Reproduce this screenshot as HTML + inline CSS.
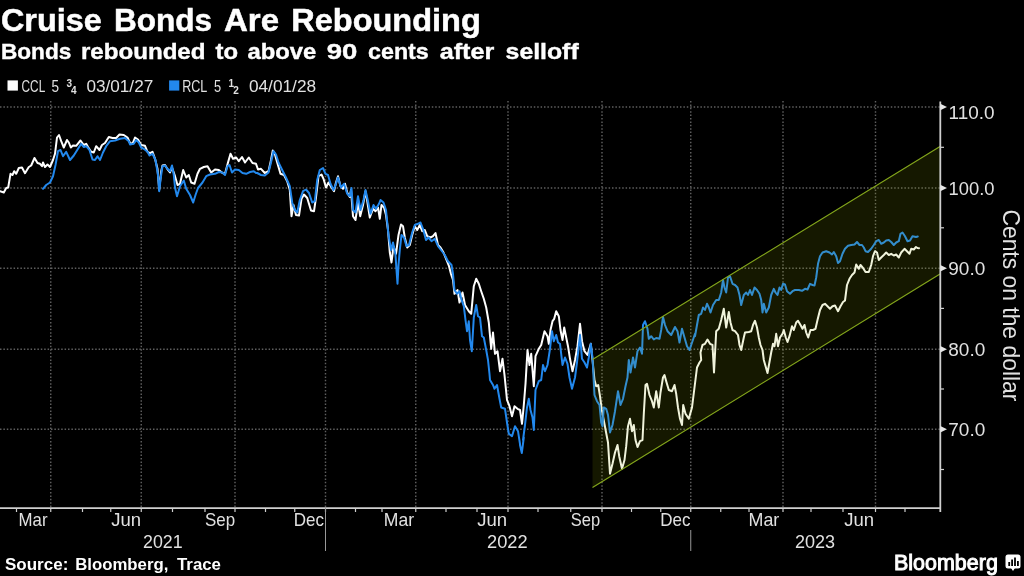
<!DOCTYPE html>
<html><head><meta charset="utf-8"><title>Cruise Bonds Are Rebounding</title>
<style>html,body{margin:0;padding:0;background:#000;width:1024px;height:576px;overflow:hidden;font-family:"Liberation Sans",sans-serif}</style>
</head><body>
<svg width="1024" height="576" viewBox="0 0 1024 576" style="position:absolute;left:0;top:0;will-change:transform;opacity:0.999">
<rect width="1024" height="576" fill="#000"/>
<g stroke="#606060" stroke-width="1.45" stroke-dasharray="1.5 1.9" fill="none">
<line x1="50.75" y1="101" x2="50.75" y2="507"/>
<line x1="141.25" y1="101" x2="141.25" y2="507"/>
<line x1="235" y1="101" x2="235" y2="507"/>
<line x1="325.5" y1="101" x2="325.5" y2="507"/>
<line x1="415.75" y1="101" x2="415.75" y2="507"/>
<line x1="508" y1="101" x2="508" y2="507"/>
<line x1="602" y1="101" x2="602" y2="507"/>
<line x1="690.75" y1="101" x2="690.75" y2="507"/>
<line x1="783" y1="101" x2="783" y2="507"/>
<line x1="875.5" y1="101" x2="875.5" y2="507"/>
<line x1="0" y1="107" x2="940" y2="107"/>
<line x1="0" y1="188" x2="940" y2="188"/>
<line x1="0" y1="268.25" x2="940" y2="268.25"/>
<line x1="0" y1="349.25" x2="940" y2="349.25"/>
<line x1="0" y1="429.25" x2="940" y2="429.25"/>
</g>
<path d="M0.0,191.2 L3.8,192.5 L6.2,188.0 L8.2,187.5 L10.5,173.8 L12.5,175.0 L14.2,171.2 L16.2,173.8 L18.8,168.0 L22.0,167.5 L25.0,173.2 L28.8,167.0 L31.2,165.5 L34.5,158.0 L37.5,163.0 L40.0,163.8 L42.0,166.2 L43.0,162.5 L45.0,167.0 L47.5,164.5 L50.0,167.0 L53.0,160.0 L55.0,153.8 L57.0,137.5 L59.0,135.0 L61.2,141.2 L63.8,147.5 L67.0,140.0 L68.8,142.5 L70.8,147.5 L73.0,145.5 L76.2,145.8 L80.5,140.5 L83.8,145.0 L86.2,143.8 L88.0,147.0 L91.2,151.8 L93.8,152.5 L96.2,146.2 L99.5,150.0 L102.0,145.0 L105.0,143.0 L108.8,137.0 L112.5,138.0 L116.2,138.0 L119.5,134.5 L123.8,135.0 L127.5,137.5 L130.0,143.0 L132.5,143.8 L135.0,137.5 L138.0,139.5 L141.2,145.0 L145.0,145.8 L147.5,151.8 L150.0,153.2 L152.5,151.8 L155.0,158.8 L157.5,168.8 L159.2,190.0 L161.2,171.2 L162.5,165.5 L165.0,165.0 L168.0,170.0 L170.0,172.5 L172.0,167.5 L175.0,176.2 L177.5,185.0 L180.0,183.8 L183.2,170.0 L186.2,177.5 L188.8,175.0 L191.2,182.5 L194.5,183.8 L197.5,173.8 L200.0,168.8 L203.8,167.0 L207.5,166.2 L211.2,172.5 L215.0,169.5 L218.8,170.0 L222.5,173.0 L225.0,173.8 L228.0,162.5 L230.5,153.8 L233.0,158.8 L236.2,157.5 L238.8,161.2 L242.0,157.0 L245.0,162.5 L248.8,157.5 L252.5,163.0 L256.0,163.8 L258.0,169.5 L261.0,168.8 L264.8,173.0 L268.5,171.2 L271.0,160.0 L272.8,150.5 L274.8,153.8 L277.2,162.5 L280.5,173.8 L284.0,175.0 L287.2,181.2 L289.8,190.0 L291.5,216.2 L293.5,205.0 L296.0,215.0 L299.0,215.5 L301.5,198.8 L304.0,194.5 L307.2,198.0 L311.0,210.5 L314.0,211.2 L316.0,197.5 L318.5,176.2 L321.5,174.5 L323.5,178.8 L326.0,187.5 L328.5,182.5 L331.5,187.5 L334.0,191.2 L336.0,182.5 L338.0,176.2 L340.5,186.2 L343.0,188.8 L345.0,183.8 L347.2,192.5 L349.8,197.0 L351.0,190.0 L353.0,216.2 L355.5,220.0 L358.0,202.5 L360.2,216.2 L363.0,205.0 L365.5,191.2 L367.2,201.2 L369.8,217.5 L373.0,208.8 L375.5,211.2 L378.0,207.5 L379.8,218.8 L381.5,205.0 L384.0,207.5 L386.0,215.0 L388.0,230.0 L389.8,252.5 L391.5,262.5 L393.5,246.2 L396.0,253.8 L398.5,235.0 L401.0,224.5 L403.0,226.2 L404.8,237.5 L407.2,247.5 L409.8,245.0 L412.2,235.0 L414.8,226.2 L417.2,230.0 L419.8,225.0 L422.2,231.2 L424.8,230.0 L427.2,236.2 L430.5,237.5 L433.0,236.2 L435.5,233.0 L438.0,245.0 L440.5,247.5 L443.5,252.5 L446.5,260.0 L449.0,266.2 L451.0,274.0 L453.0,280.0 L454.5,293.8 L457.5,290.0 L459.5,302.5 L462.5,292.5 L465.0,305.0 L468.8,311.2 L471.2,313.8 L473.8,286.2 L476.2,278.8 L478.8,283.8 L481.2,291.2 L483.8,298.8 L486.2,307.5 L488.8,322.5 L491.2,348.8 L493.0,332.5 L495.0,353.8 L497.5,351.2 L500.0,371.2 L502.5,358.8 L504.5,375.0 L507.0,400.0 L509.5,406.2 L512.0,416.2 L514.5,406.2 L517.5,408.8 L520.0,410.0 L522.0,423.8 L523.8,405.0 L525.5,383.8 L527.5,350.0 L529.5,365.0 L531.2,353.8 L533.8,386.2 L535.5,356.2 L538.8,348.8 L541.2,345.0 L544.5,331.2 L547.5,336.2 L548.8,343.8 L550.5,330.0 L552.5,321.2 L554.2,318.8 L556.2,311.2 L558.8,316.2 L560.5,330.0 L562.5,340.0 L564.2,327.5 L566.2,337.5 L568.0,346.2 L570.0,358.8 L572.5,371.2 L575.0,360.0 L577.5,346.2 L580.0,323.8 L582.0,341.2 L584.5,351.2 L587.5,355.0 L590.8,343.8 L592.5,360.0 L594.5,380.0 L596.2,386.2 L598.2,385.0 L600.0,396.2 L601.8,410.0 L608.0,442.5 L610.0,473.8 L612.5,463.8 L615.0,452.5 L617.5,445.0 L619.2,456.2 L622.0,468.8 L624.5,460.0 L626.2,446.2 L628.0,426.2 L630.0,418.8 L632.0,431.2 L633.8,425.0 L635.5,440.0 L637.5,447.0 L640.0,441.2 L642.5,440.0 L643.8,413.8 L645.5,385.0 L647.0,383.8 L649.5,395.0 L652.0,401.2 L653.8,407.5 L656.2,391.2 L658.8,407.5 L660.5,392.5 L663.0,377.5 L664.5,375.0 L666.2,381.2 L668.8,390.0 L672.0,391.2 L674.5,385.0 L676.2,393.8 L678.0,407.5 L680.0,418.8 L682.0,425.0 L683.2,405.0 L685.5,413.8 L688.8,418.8 L692.0,407.5 L694.5,387.5 L697.0,367.5 L699.5,362.5 L701.2,360.0 L700.5,352.5 L702.5,345.0 L705.0,343.8 L707.5,339.5 L710.0,343.8 L712.5,345.0 L714.0,372.5 L716.2,331.2 L718.8,328.8 L721.2,320.0 L723.8,308.8 L726.2,327.5 L728.8,312.0 L730.5,322.5 L732.5,330.0 L735.0,331.2 L738.0,335.0 L739.5,345.0 L741.2,350.0 L743.8,337.5 L745.0,332.5 L748.8,332.0 L751.2,331.2 L753.0,325.0 L755.0,320.8 L757.0,327.5 L758.8,337.5 L760.5,345.0 L762.5,350.0 L763.8,360.0 L767.5,373.0 L771.2,352.5 L773.0,343.8 L774.5,346.2 L776.2,333.8 L778.0,346.2 L780.0,337.5 L782.5,333.8 L783.8,330.0 L785.8,337.5 L787.5,342.0 L789.5,336.2 L792.0,326.2 L793.8,330.0 L796.2,322.5 L798.0,320.8 L800.5,325.0 L802.5,328.8 L804.5,325.0 L806.2,332.5 L808.2,337.5 L810.5,330.0 L813.0,330.0 L815.5,328.8 L817.5,320.0 L820.0,310.0 L822.5,305.0 L825.0,303.8 L827.5,306.2 L830.0,308.8 L832.5,306.2 L835.0,305.5 L838.0,311.2 L840.5,306.2 L843.0,302.0 L845.0,300.5 L847.0,285.0 L849.5,278.8 L852.0,275.0 L854.5,272.5 L856.2,264.5 L858.8,268.8 L860.5,265.0 L863.0,268.0 L865.5,272.0 L868.8,272.0 L871.2,265.0 L873.0,256.2 L875.0,251.2 L877.0,252.5 L878.8,260.0 L881.2,257.5 L883.8,255.0 L886.2,252.5 L888.8,255.0 L891.2,253.8 L893.8,255.5 L896.2,254.5 L898.8,257.5 L901.2,252.5 L904.5,248.8 L907.0,251.2 L909.5,253.8 L911.2,248.8 L913.8,249.5 L916.0,247.0 L917.5,248.0 L919.0,248.2" fill="none" stroke="#ffffff" stroke-width="2" stroke-linejoin="round" stroke-linecap="round"/>
<path d="M43.0,188.8 L46.2,185.0 L50.0,182.5 L53.0,176.2 L55.5,165.0 L58.0,151.2 L60.5,150.0 L63.0,156.2 L66.2,151.8 L70.0,160.0 L73.8,155.5 L78.8,147.5 L81.2,143.8 L83.8,147.0 L86.2,146.2 L89.5,150.0 L92.5,159.5 L95.0,160.0 L97.5,156.2 L100.0,160.0 L103.0,152.5 L106.2,146.2 L110.0,141.2 L115.0,140.5 L120.0,138.8 L125.0,138.0 L128.8,141.2 L130.0,144.5 L133.8,143.8 L136.2,140.0 L138.8,142.5 L141.2,147.5 L143.8,148.8 L147.5,151.8 L149.5,155.5 L152.5,153.8 L155.5,160.0 L158.0,175.0 L159.2,191.2 L160.8,177.5 L162.5,166.2 L165.0,165.5 L167.5,168.8 L170.0,171.2 L172.0,165.5 L173.8,175.0 L175.0,187.5 L177.0,196.2 L180.0,186.2 L183.8,180.5 L186.2,188.8 L190.0,195.0 L193.2,202.5 L195.5,195.0 L198.0,188.0 L202.5,182.5 L206.2,176.2 L210.0,174.5 L215.0,173.8 L218.8,172.0 L222.5,172.5 L225.0,175.0 L227.5,166.2 L229.5,165.0 L232.0,172.5 L235.0,169.5 L238.8,170.0 L242.5,173.0 L246.2,173.8 L250.0,172.0 L253.8,171.2 L256.0,173.0 L257.2,173.0 L261.0,175.0 L264.8,175.5 L268.5,172.5 L271.0,162.5 L273.5,151.2 L276.0,154.5 L278.5,162.5 L282.2,170.0 L286.0,177.5 L289.8,186.2 L292.2,202.5 L294.8,210.0 L297.2,212.5 L299.8,200.0 L303.0,191.2 L306.0,189.5 L309.0,193.0 L312.2,202.5 L314.8,201.2 L317.2,180.0 L319.8,170.0 L323.0,168.0 L325.5,173.8 L328.0,175.0 L330.5,183.8 L333.5,190.0 L336.0,183.8 L338.0,177.5 L341.0,187.5 L344.0,183.8 L347.2,193.8 L349.8,196.2 L351.5,188.0 L353.0,210.0 L355.5,212.5 L358.0,196.2 L360.5,210.0 L363.5,200.0 L365.5,190.0 L368.0,201.2 L370.5,213.8 L373.5,205.0 L376.0,208.8 L379.0,203.8 L380.5,200.0 L383.5,202.5 L386.0,210.0 L388.5,235.0 L391.0,250.0 L393.0,242.5 L395.5,255.0 L396.5,270.0 L397.5,283.8 L398.5,265.0 L399.8,250.0 L401.5,235.0 L404.0,237.5 L406.5,246.2 L409.0,245.0 L412.2,232.5 L414.8,225.0 L418.0,223.8 L420.5,222.5 L423.0,228.8 L426.0,240.0 L428.5,237.5 L431.5,241.2 L434.8,238.8 L438.0,246.2 L441.0,250.0 L444.8,255.0 L448.0,261.2 L451.5,265.0 L453.0,274.0 L454.5,290.0 L457.0,293.8 L459.5,291.2 L461.2,298.8 L463.8,306.2 L465.5,320.0 L467.0,331.2 L468.8,321.2 L470.0,340.0 L471.8,351.2 L473.8,317.5 L476.2,305.0 L478.0,316.2 L480.0,317.5 L482.0,336.2 L483.8,337.5 L486.2,350.0 L488.0,360.0 L489.5,374.0 L490.0,380.0 L493.0,385.0 L494.5,388.8 L497.0,385.0 L499.5,398.8 L501.2,407.5 L505.0,408.8 L507.0,422.5 L508.8,433.8 L512.0,436.2 L515.0,426.2 L518.0,431.2 L520.0,444.0 L520.0,445.0 L521.8,453.0 L523.8,437.5 L523.0,440.0 L525.0,425.0 L527.0,407.5 L528.8,398.8 L530.5,410.0 L532.5,417.5 L533.8,430.0 L535.5,390.0 L538.8,381.2 L541.2,380.0 L543.0,365.0 L545.0,371.2 L547.5,365.0 L550.0,348.8 L552.0,331.2 L553.8,341.2 L556.2,335.0 L558.0,342.5 L560.0,343.8 L562.5,365.0 L565.0,357.5 L567.5,363.8 L569.5,377.5 L572.0,388.8 L575.0,377.5 L577.0,362.5 L578.8,346.2 L580.0,335.0 L582.0,358.8 L584.5,362.5 L587.0,367.5 L588.8,357.5 L590.8,343.8 L592.5,357.5 L594.5,395.0 L597.0,401.2 L599.5,405.0 L601.2,422.5 L602.5,426.2 L603.8,407.5 L606.2,408.8 L608.0,415.0 L610.0,432.5 L612.5,425.0 L615.0,411.2 L618.0,391.2 L620.5,405.0 L623.0,398.8 L625.5,386.2 L627.5,377.5 L628.8,360.0 L630.5,372.5 L633.0,357.5 L635.0,367.5 L637.5,351.2 L640.0,347.5 L642.0,353.8 L643.0,325.0 L645.0,321.2 L647.5,328.8 L648.8,338.8 L651.2,336.2 L653.8,339.5 L656.2,338.0 L659.5,338.8 L661.2,330.0 L663.0,317.0 L665.0,325.0 L667.5,331.2 L671.2,335.0 L675.0,327.0 L677.5,331.2 L679.5,342.5 L682.0,328.8 L684.5,337.5 L687.0,346.2 L689.5,350.0 L692.5,341.2 L695.0,333.8 L695.0,336.2 L697.0,325.0 L698.8,315.0 L701.2,313.8 L703.0,307.5 L705.0,310.0 L707.0,303.8 L708.8,307.5 L710.5,312.5 L713.0,305.0 L716.2,300.0 L718.8,300.0 L721.2,292.5 L723.0,280.0 L724.5,287.5 L726.2,292.5 L728.0,277.5 L730.0,276.2 L732.5,283.8 L735.0,285.0 L737.5,287.5 L739.5,295.0 L741.2,305.0 L743.8,295.0 L746.2,292.5 L748.0,295.0 L750.0,290.0 L752.0,295.0 L754.5,287.5 L757.0,290.0 L759.5,293.8 L761.2,300.0 L762.5,312.5 L763.8,303.8 L766.2,312.5 L768.8,307.5 L771.2,295.0 L773.8,288.8 L775.5,292.5 L777.5,295.0 L779.5,287.5 L781.2,290.0 L783.0,283.8 L785.0,284.5 L787.0,291.2 L790.0,293.8 L792.5,291.2 L795.0,290.0 L798.8,290.0 L802.0,290.8 L805.0,288.8 L807.5,289.5 L810.0,283.8 L812.5,285.0 L814.5,285.5 L816.2,277.5 L818.0,263.8 L820.0,256.2 L822.5,252.5 L826.2,251.2 L829.5,252.5 L832.0,254.5 L833.8,252.0 L836.2,256.2 L838.0,263.0 L840.0,261.2 L842.5,253.8 L845.0,248.8 L848.0,245.8 L851.2,245.0 L854.5,244.5 L857.0,242.0 L859.5,245.0 L862.0,245.0 L863.8,247.5 L865.5,251.2 L868.0,252.0 L871.2,248.8 L873.8,245.0 L876.2,241.2 L878.8,240.0 L881.2,243.8 L883.8,242.5 L886.2,240.5 L888.8,240.0 L891.2,242.0 L893.8,245.0 L896.2,242.5 L898.8,241.2 L900.5,233.8 L902.5,232.5 L905.0,236.2 L907.5,241.2 L910.0,240.5 L912.5,236.2 L916.0,237.0 L917.8,236.5" fill="none" stroke="#2389ee" stroke-width="2" stroke-linejoin="round" stroke-linecap="round"/>
<polygon points="592.5,359.5 940,146.5 940,274 592.5,487.5" fill="rgb(157,180,10)" fill-opacity="0.14"/>
<path d="M592.5,359.5 L940,146.5 M592.5,487.5 L940,274" stroke="#84a61c" stroke-width="1.2" fill="none"/>
<g stroke="#d0d0d0" fill="none">
<line x1="0" y1="508.2" x2="941" y2="508.2" stroke-width="1.8"/>
<line x1="940.3" y1="101.4" x2="940.3" y2="512" stroke-width="1.8"/>
<line x1="16.5" y1="508" x2="16.5" y2="512" stroke-width="1.2"/>
<line x1="50.75" y1="508" x2="50.75" y2="512" stroke-width="1.2"/>
<line x1="82.5" y1="508" x2="82.5" y2="512" stroke-width="1.2"/>
<line x1="110.75" y1="508" x2="110.75" y2="512" stroke-width="1.2"/>
<line x1="141.25" y1="508" x2="141.25" y2="512" stroke-width="1.2"/>
<line x1="172.5" y1="508" x2="172.5" y2="512" stroke-width="1.2"/>
<line x1="205" y1="508" x2="205" y2="512" stroke-width="1.2"/>
<line x1="235" y1="508" x2="235" y2="512" stroke-width="1.2"/>
<line x1="265.5" y1="508" x2="265.5" y2="512" stroke-width="1.2"/>
<line x1="294.75" y1="508" x2="294.75" y2="512" stroke-width="1.2"/>
<line x1="325.5" y1="508" x2="325.5" y2="512" stroke-width="1.2"/>
<line x1="355.5" y1="508" x2="355.5" y2="512" stroke-width="1.2"/>
<line x1="382" y1="508" x2="382" y2="512" stroke-width="1.2"/>
<line x1="415.75" y1="508" x2="415.75" y2="512" stroke-width="1.2"/>
<line x1="446" y1="508" x2="446" y2="512" stroke-width="1.2"/>
<line x1="477" y1="508" x2="477" y2="512" stroke-width="1.2"/>
<line x1="508" y1="508" x2="508" y2="512" stroke-width="1.2"/>
<line x1="538" y1="508" x2="538" y2="512" stroke-width="1.2"/>
<line x1="570.75" y1="508" x2="570.75" y2="512" stroke-width="1.2"/>
<line x1="602" y1="508" x2="602" y2="512" stroke-width="1.2"/>
<line x1="631.5" y1="508" x2="631.5" y2="512" stroke-width="1.2"/>
<line x1="660.75" y1="508" x2="660.75" y2="512" stroke-width="1.2"/>
<line x1="690.75" y1="508" x2="690.75" y2="512" stroke-width="1.2"/>
<line x1="720.75" y1="508" x2="720.75" y2="512" stroke-width="1.2"/>
<line x1="749" y1="508" x2="749" y2="512" stroke-width="1.2"/>
<line x1="783" y1="508" x2="783" y2="512" stroke-width="1.2"/>
<line x1="811" y1="508" x2="811" y2="512" stroke-width="1.2"/>
<line x1="843" y1="508" x2="843" y2="512" stroke-width="1.2"/>
<line x1="875.5" y1="508" x2="875.5" y2="512" stroke-width="1.2"/>
<line x1="905" y1="508" x2="905" y2="512" stroke-width="1.2"/>
<line x1="940" y1="147.3" x2="944" y2="147.3" stroke-width="1.2"/>
<line x1="940" y1="227.8" x2="944" y2="227.8" stroke-width="1.2"/>
<line x1="940" y1="308.4" x2="944" y2="308.4" stroke-width="1.2"/>
<line x1="940" y1="389.0" x2="944" y2="389.0" stroke-width="1.2"/>
<line x1="940" y1="469.5" x2="944" y2="469.5" stroke-width="1.2"/>
</g>
<polygon points="940.3,103.8 947,107 940.3,110.2" fill="#e8e8e8"/>
<polygon points="940.3,184.8 947,188 940.3,191.2" fill="#e8e8e8"/>
<polygon points="940.3,265.05 947,268.25 940.3,271.45" fill="#e8e8e8"/>
<polygon points="940.3,346.05 947,349.25 940.3,352.45" fill="#e8e8e8"/>
<polygon points="940.3,426.05 947,429.25 940.3,432.45" fill="#e8e8e8"/>
<line x1="325.5" y1="508" x2="325.5" y2="551" stroke="#9a9a9a" stroke-width="1"/>
<line x1="690.75" y1="530" x2="690.75" y2="551" stroke="#9a9a9a" stroke-width="1"/>
<text x="0.94" y="31.2" font-family="Liberation Sans, sans-serif" font-size="30.52" font-weight="bold" fill="#fff" stroke="#fff" stroke-width="0.5" textLength="100.69" lengthAdjust="spacingAndGlyphs">Cruise</text>
<text x="113.93" y="31.2" font-family="Liberation Sans, sans-serif" font-size="30.52" font-weight="bold" fill="#fff" stroke="#fff" stroke-width="0.5" textLength="98.07" lengthAdjust="spacingAndGlyphs">Bonds</text>
<text x="224.00" y="31.2" font-family="Liberation Sans, sans-serif" font-size="30.52" font-weight="bold" fill="#fff" stroke="#fff" stroke-width="0.5" textLength="55.05" lengthAdjust="spacingAndGlyphs">Are</text>
<text x="291.37" y="31.2" font-family="Liberation Sans, sans-serif" font-size="30.52" font-weight="bold" fill="#fff" stroke="#fff" stroke-width="0.5" textLength="189.37" lengthAdjust="spacingAndGlyphs">Rebounding</text>
<text x="0.98" y="58.6" font-family="Liberation Sans, sans-serif" font-size="22.09" font-weight="bold" fill="#fff" stroke="#fff" stroke-width="0.4" textLength="70.31" lengthAdjust="spacingAndGlyphs">Bonds</text>
<text x="80.91" y="58.6" font-family="Liberation Sans, sans-serif" font-size="22.09" font-weight="bold" fill="#fff" stroke="#fff" stroke-width="0.4" textLength="124.62" lengthAdjust="spacingAndGlyphs">rebounded</text>
<text x="215.50" y="58.6" font-family="Liberation Sans, sans-serif" font-size="22.09" font-weight="bold" fill="#fff" stroke="#fff" stroke-width="0.4" textLength="22.53" lengthAdjust="spacingAndGlyphs">to</text>
<text x="247.50" y="58.6" font-family="Liberation Sans, sans-serif" font-size="22.09" font-weight="bold" fill="#fff" stroke="#fff" stroke-width="0.4" textLength="68.80" lengthAdjust="spacingAndGlyphs">above</text>
<text x="326.75" y="58.6" font-family="Liberation Sans, sans-serif" font-size="22.09" font-weight="bold" fill="#fff" stroke="#fff" stroke-width="0.4" textLength="30.60" lengthAdjust="spacingAndGlyphs">90</text>
<text x="368.00" y="58.6" font-family="Liberation Sans, sans-serif" font-size="22.09" font-weight="bold" fill="#fff" stroke="#fff" stroke-width="0.4" textLength="60.79" lengthAdjust="spacingAndGlyphs">cents</text>
<text x="439.75" y="58.6" font-family="Liberation Sans, sans-serif" font-size="22.09" font-weight="bold" fill="#fff" stroke="#fff" stroke-width="0.4" textLength="54.53" lengthAdjust="spacingAndGlyphs">after</text>
<text x="505.60" y="58.6" font-family="Liberation Sans, sans-serif" font-size="22.09" font-weight="bold" fill="#fff" stroke="#fff" stroke-width="0.4" textLength="73.07" lengthAdjust="spacingAndGlyphs">selloff</text>
<text x="21.60" y="92.0" font-family="Liberation Sans, sans-serif" font-size="16.28" font-weight="normal" fill="#e2e2e2" textLength="23.63" lengthAdjust="spacingAndGlyphs">CCL</text>
<text x="51.50" y="92.0" font-family="Liberation Sans, sans-serif" font-size="16.28" font-weight="normal" fill="#e2e2e2" textLength="7.54" lengthAdjust="spacingAndGlyphs">5</text>
<text x="86.40" y="92.0" font-family="Liberation Sans, sans-serif" font-size="16.28" font-weight="normal" fill="#e2e2e2" textLength="66.85" lengthAdjust="spacingAndGlyphs">03/01/27</text>
<text x="182.13" y="92.0" font-family="Liberation Sans, sans-serif" font-size="16.28" font-weight="normal" fill="#e2e2e2" textLength="25.21" lengthAdjust="spacingAndGlyphs">RCL</text>
<text x="214.00" y="92.0" font-family="Liberation Sans, sans-serif" font-size="16.28" font-weight="normal" fill="#e2e2e2" textLength="7.14" lengthAdjust="spacingAndGlyphs">5</text>
<text x="248.90" y="92.0" font-family="Liberation Sans, sans-serif" font-size="16.28" font-weight="normal" fill="#e2e2e2" textLength="67.25" lengthAdjust="spacingAndGlyphs">04/01/28</text>
<text x="948.50" y="119.1" font-family="Liberation Sans, sans-serif" font-size="18.9" font-weight="normal" fill="#e2e2e2" textLength="46.01" lengthAdjust="spacingAndGlyphs">110.0</text>
<text x="948.53" y="194.7" font-family="Liberation Sans, sans-serif" font-size="18.9" font-weight="normal" fill="#e2e2e2" textLength="45.96" lengthAdjust="spacingAndGlyphs">100.0</text>
<text x="948.30" y="274.95" font-family="Liberation Sans, sans-serif" font-size="18.9" font-weight="normal" fill="#e2e2e2" textLength="37.01" lengthAdjust="spacingAndGlyphs">90.0</text>
<text x="948.30" y="355.95" font-family="Liberation Sans, sans-serif" font-size="18.9" font-weight="normal" fill="#e2e2e2" textLength="37.01" lengthAdjust="spacingAndGlyphs">80.0</text>
<text x="948.30" y="435.95" font-family="Liberation Sans, sans-serif" font-size="18.9" font-weight="normal" fill="#e2e2e2" textLength="37.01" lengthAdjust="spacingAndGlyphs">70.0</text>
<text x="18.57" y="526.4" font-family="Liberation Sans, sans-serif" font-size="18.17" font-weight="normal" fill="#e2e2e2" textLength="28.97" lengthAdjust="spacingAndGlyphs">Mar</text>
<text x="111.25" y="526.4" font-family="Liberation Sans, sans-serif" font-size="18.17" font-weight="normal" fill="#e2e2e2" textLength="29.87" lengthAdjust="spacingAndGlyphs">Jun</text>
<text x="205.00" y="526.4" font-family="Liberation Sans, sans-serif" font-size="18.17" font-weight="normal" fill="#e2e2e2" textLength="30.09" lengthAdjust="spacingAndGlyphs">Sep</text>
<text x="293.81" y="526.4" font-family="Liberation Sans, sans-serif" font-size="18.17" font-weight="normal" fill="#e2e2e2" textLength="30.26" lengthAdjust="spacingAndGlyphs">Dec</text>
<text x="383.78" y="526.4" font-family="Liberation Sans, sans-serif" font-size="18.17" font-weight="normal" fill="#e2e2e2" textLength="30.26" lengthAdjust="spacingAndGlyphs">Mar</text>
<text x="477.25" y="526.4" font-family="Liberation Sans, sans-serif" font-size="18.17" font-weight="normal" fill="#e2e2e2" textLength="29.87" lengthAdjust="spacingAndGlyphs">Jun</text>
<text x="570.75" y="526.4" font-family="Liberation Sans, sans-serif" font-size="18.17" font-weight="normal" fill="#e2e2e2" textLength="29.34" lengthAdjust="spacingAndGlyphs">Sep</text>
<text x="660.31" y="526.4" font-family="Liberation Sans, sans-serif" font-size="18.17" font-weight="normal" fill="#e2e2e2" textLength="30.26" lengthAdjust="spacingAndGlyphs">Dec</text>
<text x="748.52" y="526.4" font-family="Liberation Sans, sans-serif" font-size="18.17" font-weight="normal" fill="#e2e2e2" textLength="30.78" lengthAdjust="spacingAndGlyphs">Mar</text>
<text x="844.25" y="526.4" font-family="Liberation Sans, sans-serif" font-size="18.17" font-weight="normal" fill="#e2e2e2" textLength="29.87" lengthAdjust="spacingAndGlyphs">Jun</text>
<text x="143.00" y="547.6" font-family="Liberation Sans, sans-serif" font-size="18.17" font-weight="normal" fill="#e2e2e2" textLength="39.60" lengthAdjust="spacingAndGlyphs">2021</text>
<text x="487.00" y="547.6" font-family="Liberation Sans, sans-serif" font-size="18.17" font-weight="normal" fill="#e2e2e2" textLength="40.60" lengthAdjust="spacingAndGlyphs">2022</text>
<text x="795.00" y="547.6" font-family="Liberation Sans, sans-serif" font-size="18.17" font-weight="normal" fill="#e2e2e2" textLength="40.10" lengthAdjust="spacingAndGlyphs">2023</text>
<text x="5.00" y="569.9" font-family="Liberation Sans, sans-serif" font-size="15.7" font-weight="bold" fill="#fff" textLength="63.33" lengthAdjust="spacingAndGlyphs">Source:</text>
<text x="75.18" y="569.9" font-family="Liberation Sans, sans-serif" font-size="15.7" font-weight="bold" fill="#fff" textLength="93.20" lengthAdjust="spacingAndGlyphs">Bloomberg,</text>
<text x="177.00" y="569.9" font-family="Liberation Sans, sans-serif" font-size="15.7" font-weight="bold" fill="#fff" textLength="43.95" lengthAdjust="spacingAndGlyphs">Trace</text>
<text x="894.01" y="569.6" font-family="Liberation Sans, sans-serif" font-size="21.8" font-weight="normal" fill="#fff" stroke="#fff" stroke-width="1.0" textLength="103.84" lengthAdjust="spacingAndGlyphs">Bloomberg</text>
<text x="66.4" y="86.8" font-family="Liberation Sans, sans-serif" font-size="10" font-weight="bold" fill="#e2e2e2">3</text>
<text x="71.0" y="93.6" font-family="Liberation Sans, sans-serif" font-size="10" font-weight="bold" fill="#e2e2e2">4</text>
<text x="228.6" y="86.8" font-family="Liberation Sans, sans-serif" font-size="10" font-weight="bold" fill="#e2e2e2">1</text>
<text x="233.2" y="93.6" font-family="Liberation Sans, sans-serif" font-size="10" font-weight="bold" fill="#e2e2e2">2</text>
<rect x="7.5" y="80.4" width="10.4" height="10.2" fill="#fff"/>
<rect x="169.1" y="80.4" width="10.2" height="10.2" fill="#2389ee"/>
<text transform="translate(1002.8,305.4) rotate(90)" font-family="Liberation Sans, sans-serif" font-size="24" text-anchor="middle" fill="#e2e2e2" textLength="192" lengthAdjust="spacingAndGlyphs">Cents on the dollar</text>
<g><rect x="1005.5" y="554.5" width="15" height="14" rx="2.5" fill="#fff"/><polygon points="1011,568 1015,568 1013,571" fill="#fff"/><rect x="1008.3" y="562" width="1.8" height="4" fill="#000"/><rect x="1011.2" y="559.5" width="1.8" height="6.5" fill="#000"/><rect x="1014.1" y="557.5" width="1.8" height="8.5" fill="#000"/><rect x="1017" y="561" width="1.8" height="5" fill="#000"/></g>
</svg>
</body></html>
